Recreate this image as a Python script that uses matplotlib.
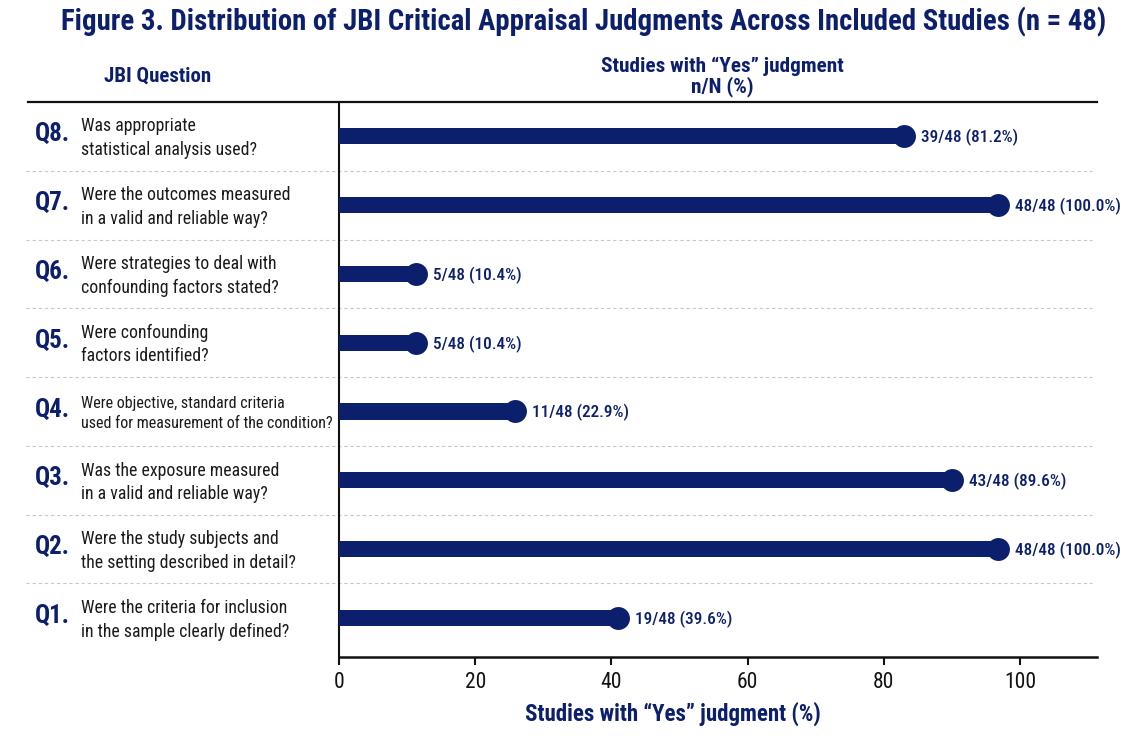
import matplotlib
matplotlib.use("Agg")
import matplotlib.pyplot as plt
from matplotlib import font_manager

# ---------------- data ----------------
q_ids = ["Q1.", "Q2.", "Q3.", "Q4.", "Q5.", "Q6.", "Q7.", "Q8."]
q_text = [
    "Were the criteria for inclusion\nin the sample clearly defined?",
    "Were the study subjects and\nthe setting described in detail?",
    "Was the exposure measured\nin a valid and reliable way?",
    "Were objective, standard criteria\nused for measurement of the condition?",
    "Were confounding\nfactors identified?",
    "Were strategies to deal with\nconfounding factors stated?",
    "Were the outcomes measured\nin a valid and reliable way?",
    "Was appropriate\nstatistical analysis used?",
]
yes_n = [19, 48, 43, 11, 5, 5, 48, 39]
total_n = [48, 48, 48, 48, 48, 48, 48, 48]
yes_pct = [39.6, 100.0, 89.6, 22.9, 10.4, 10.4, 100.0, 81.2]
# bar/marker end as drawn against the x axis in the reference picture
bar_end = [40.9, 96.8, 90.0, 25.8, 11.3, 11.3, 96.8, 82.9]
x_ticks = [0, 20, 40, 60, 80, 100]

# ---------------- style ----------------
names = {f.name for f in font_manager.fontManager.ttflist}
fam = ["Roboto Condensed", "Barlow Semi Condensed", "Asap Condensed", "Roboto", "DejaVu Sans"]
fam = [f for f in fam if f in names] or ["DejaVu Sans"]
plt.rcParams["font.family"] = fam

NAVY = "#0c1f6d"
TXT = "#1a1a1a"
GRID = "#c8c8c8"

W, H = 1124, 750
fig = plt.figure(figsize=(W / 100, H / 100), dpi=100)

def fx(px):
    return px / W

def fy(py):
    return 1 - py / H

ax_l, ax_r, ax_t, ax_b = 339, 1097, 102, 657
ax = fig.add_axes([fx(ax_l), fy(ax_b), fx(ax_r - ax_l), (ax_b - ax_t) / H])

ypos = list(range(len(q_ids)))
ax.set_xlim(0, 111.3)
ax.set_ylim(-0.57, 7.5)

ax.barh(ypos, bar_end, height=0.235, color=NAVY, zorder=3)
ax.scatter(bar_end, ypos, s=16.5 ** 2, color=NAVY, zorder=4, linewidths=0)

for y, b, v, n, t in zip(ypos, bar_end, yes_pct, yes_n, total_n):
    ax.annotate(f"{n}/{t} ({v:.1f}%)", (b, y), xytext=(12.3, -1),
                textcoords="offset points", va="center", ha="left",
                fontsize=12.4, color=NAVY, fontweight="medium", zorder=5,
                annotation_clip=False)

# separators (dashed) extending into label area
for k in range(len(q_ids) - 1):
    yy = k + 0.5
    ax.plot([-46, 110.5], [yy, yy], ls=(0, (3, 2.5)), lw=0.8, color=GRID,
            clip_on=False, zorder=1)

# spines
for s in ["top", "right"]:
    ax.spines[s].set_visible(False)
ax.spines["left"].set_linewidth(1.5)
ax.spines["bottom"].set_linewidth(1.8)
ax.spines["left"].set_color("#111111")
ax.spines["bottom"].set_color("#111111")

ax.set_yticks([])
ax.set_xticks(x_ticks)
ax.set_xticklabels([str(t) for t in x_ticks])
ax.tick_params(axis="x", length=6, width=1.5, labelsize=15.5, pad=5,
               colors="#111111")

fig.text(fx(673), fy(714), "Studies with “Yes” judgment (%)", fontsize=16.5,
         fontweight="bold", color=NAVY, ha="center", va="center")

# top header line
fig.add_artist(plt.Line2D([fx(28), fx(1097)], [fy(102), fy(102)],
                          color="#111111", lw=1.6))

# question labels
q_size = [12.8, 12.8, 12.8, 11.5, 12.8, 12.8, 12.8, 12.8]
for y, qi, qt, qs in zip(ypos, q_ids, q_text, q_size):
    yp = 618 - y * 68.85
    fig.text(fx(35), fy(yp - 2), qi, fontsize=18, fontweight="bold",
             color=NAVY, va="center", ha="left")
    fig.text(fx(81), fy(yp + 2), qt, fontsize=qs, color=TXT,
             va="center", ha="left", linespacing=1.4)

# headers
fig.text(fx(158), fy(76), "JBI Question", fontsize=15, fontweight="bold",
         color=NAVY, ha="center", va="center")
fig.text(fx(722), fy(66), "Studies with “Yes” judgment", fontsize=15.3,
         fontweight="bold", color=NAVY, ha="center", va="center")
fig.text(fx(722), fy(87), "n/N (%)", fontsize=15.3, fontweight="bold",
         color=NAVY, ha="center", va="center")

# title
fig.text(fx(584), fy(22),
         "Figure 3. Distribution of JBI Critical Appraisal Judgments Across Included Studies (n = 48)",
         fontsize=20.7, fontweight="bold", color=NAVY, ha="center", va="center")

fig.savefig("out.png", dpi=100, facecolor="white")
